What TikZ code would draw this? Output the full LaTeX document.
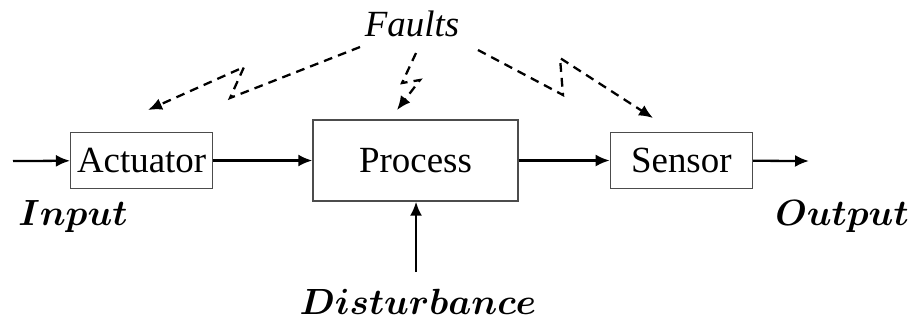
\documentclass[tikz,border=0pt]{standalone}
\usepackage{fontspec}
\setmainfont{Liberation Serif}
\usetikzlibrary{arrows.meta,positioning}

\begin{document}
\begin{tikzpicture}[
    x=0.02cm, y=-0.02cm,
    every node/.style={font=\fontsize{21}{24}\selectfont, align=center},
    block/.style={
      rectangle, draw=black!70, line width=0.8pt, fill=white,
      minimum width=2.84cm, minimum height=1.12cm, inner sep=0pt
    },
    signal/.style={font=\fontsize{21}{24}\selectfont\boldmath},
    flow/.style={-{Latex[length=2.8mm,width=2.4mm]}, line width=1.3pt, draw=black},
    fault/.style={flow, dash pattern=on 5pt off 3.5pt}
  ]
    \useasboundingbox (0,0) rectangle (915,326);

    \node[block, minimum width=4.1cm, minimum height=1.62cm] (process) at (415.5,160.5) {Process};
    \node[block, left=1.98cm of process] (actuator) {Actuator};
    \node[block, right=1.82cm of process] (sensor) {Sensor};

    \node[signal] (input) at (73,217) {$Input$};
    \node[signal] (output) at (842,217) {$Output$};
    \node[signal] (disturb) at (418,302) {$Disturbance$};
    \node (faults) at (412,24) {\textit{Faults}};

    \coordinate (in) at (13,161);
    \coordinate (out) at (809,161);
    \coordinate (dist) at (416,272);

    \draw[flow] (in) -- (actuator);
    \draw[flow] (actuator) -- (process);
    \draw[flow] (process.east |- sensor) -- (sensor);
    \draw[flow] (sensor) -- (out);
    \draw[flow] (dist) -- (dist |- process.south);

    % lightning arrows from the faults label
    \coordinate (fa) at (360,47);
    \coordinate (fb) at (416,53);
    \coordinate (fc) at (478,50);
    \draw[fault] (fa) -- (230,98) -- (244,67) -- (148,110);
    \draw[fault] (fb) -- (402,83) -- (420,80) -- (397,110);
    \draw[fault] (fc) -- (563,95) -- (560,58) -- (653,118);
  \end{tikzpicture}
\end{document}
